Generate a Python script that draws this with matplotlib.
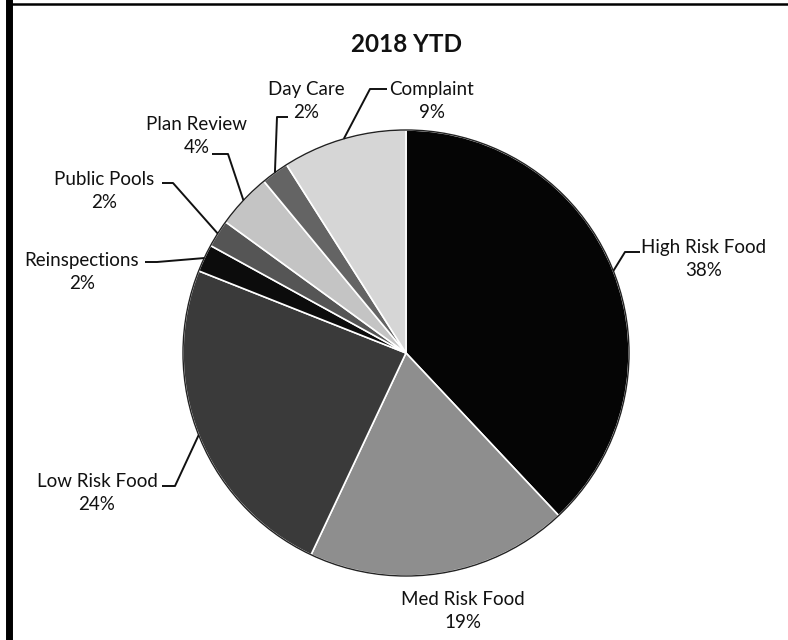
import matplotlib.pyplot as plt
import numpy as np

# =========================================================
# Data
# =========================================================
CATEGORIES = [
    "High Risk Food",
    "Med Risk Food",
    "Low Risk Food",
    "Reinspections",
    "Public Pools",
    "Plan Review",
    "Day Care",
    "Complaint",
]
SHARES = [38, 19, 24, 2, 2, 4, 2, 9]
COLORS = ["#050505", "#8e8e8e", "#3a3a3a", "#0c0c0c", "#555555", "#c4c4c4", "#646464", "#d6d6d6"]
TITLE = "2018 YTD"

# label layout in pixel space (x, y from top): text centre, elbow, line end (None = no leader)
LABEL_POS = {
    "High Risk Food": ((704, 259), (625, 252), (640, 252)),
    "Med Risk Food": ((463, 611), None, None),
    "Low Risk Food": ((97, 493), (175, 486), (162, 486)),
    "Reinspections": ((82, 272), (157, 262), (145, 262)),
    "Public Pools": ((104, 191), (173, 183), (162, 183)),
    "Plan Review": ((197, 136), (228, 154), (212, 154)),
    "Day Care": ((306, 101), (277, 117), (288, 117)),
    "Complaint": ((432, 101), (370, 89), (387, 89)),
}

W, H = 788, 640
CX, CY, R = 406, 353, 223
FONT = ["Lato", "DejaVu Sans"]


def py(y):
    return H - y


def main() -> None:
    fig = plt.figure(figsize=(W / 100, H / 100), dpi=100)
    ax = fig.add_axes([0, 0, 1, 1])

    ax.pie(
        SHARES,
        colors=COLORS,
        startangle=90,
        counterclock=False,
        center=(CX, py(CY)),
        radius=R,
        wedgeprops=dict(edgecolor="white", linewidth=1.2),
        frame=True,
    )
    ax.set_xlim(0, W)
    ax.set_ylim(0, H)
    ax.set_aspect("equal")
    ax.axis("off")
    ax.add_patch(plt.Circle((CX, py(CY)), R, fill=False, edgecolor="#222222", linewidth=1.0))

    total = float(sum(SHARES))
    cum = np.cumsum([0] + SHARES)
    for i, (name, val) in enumerate(zip(CATEGORIES, SHARES)):
        mid = 90 - 360 * (cum[i] + val / 2) / total
        ex = CX + R * np.cos(np.radians(mid))
        ey = py(CY) + R * np.sin(np.radians(mid))
        (tx, ty), elbow, end = LABEL_POS[name]
        pct = f"{round(100 * val / total):.0f}%"
        ax.text(tx, py(ty), f"{name}\n{pct}", ha="center", va="center",
                fontsize=13.5, family=FONT, color="#111111", linespacing=1.4)
        if elbow is not None:
            ax.plot([ex, elbow[0], end[0]], [ey, py(elbow[1]), py(end[1])],
                    color="#111111", linewidth=1.4, solid_capstyle="butt")

    ax.text(407, py(44), TITLE, ha="center", va="center", fontsize=17.5,
            fontweight="bold", family=FONT, color="#111111")

    # scanned frame edges
    fig.add_artist(plt.Line2D([9 / W, 9 / W], [0, 1], color="black", linewidth=5))
    fig.add_artist(plt.Line2D([9 / W, 1], [1 - 4 / H, 1 - 4 / H], color="black", linewidth=1.8))

    fig.savefig("out.png", dpi=100)
    plt.close(fig)


if __name__ == "__main__":
    main()
